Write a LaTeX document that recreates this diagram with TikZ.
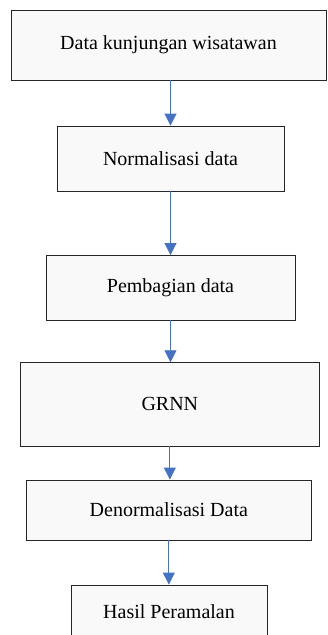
\documentclass[tikz,border=0pt]{standalone}
\usepackage{fontspec}
\setmainfont{Liberation Serif}
\usetikzlibrary{arrows.meta}
\definecolor{boxfill}{HTML}{F9F9F9}
\definecolor{arrblue}{HTML}{4472C4}
\tikzset{
  box/.style={draw=black!85, line width=0.9pt, fill=boxfill, rectangle, inner sep=0pt,
              font=\fontsize{20}{24}\selectfont, text=black},
  arr/.style={draw=arrblue, line width=0.9pt, -{Triangle[length=12pt,width=12pt]}, fill=arrblue}
}
\begin{document}
\begin{tikzpicture}[x=1pt,y=-1pt]
\useasboundingbox (0,0) rectangle (327,635);
\clip (0,0) rectangle (327,635);
\fill[white] (0,0) rectangle (327,635);
\node[box, minimum width=315pt, minimum height=70pt] (b1) at (168.5,45) {Data kunjungan wisatawan};
\node[box, minimum width=227pt, minimum height=65pt] (b2) at (170.5,158.5) {Normalisasi data};
\node[box, minimum width=249pt, minimum height=64.5pt] (b3) at (170.5,287.75) {Pembagian data};
\node[box, minimum width=298.3pt, minimum height=83.3pt] (b4) at (169.85,404.35) {GRNN};
\node[box, minimum width=284.3pt, minimum height=60pt] (b5) at (168.85,510) {Denormalisasi Data};
\node[box, minimum width=196pt, minimum height=53pt] (b6) at (169,611.5) {Hasil Peramalan};
\draw[arr] (b1.south -| b2.north) -- (b2.north);
\draw[arr] (b2.south) -- (b3.north);
\draw[arr] (b3.south) -- (b3.south |- b4.north);
\draw[arr] (b4.south) -- (b4.south |- b5.north);
\draw[arr] (b5.south) -- (b5.south |- b6.north);
\end{tikzpicture}
\end{document}
